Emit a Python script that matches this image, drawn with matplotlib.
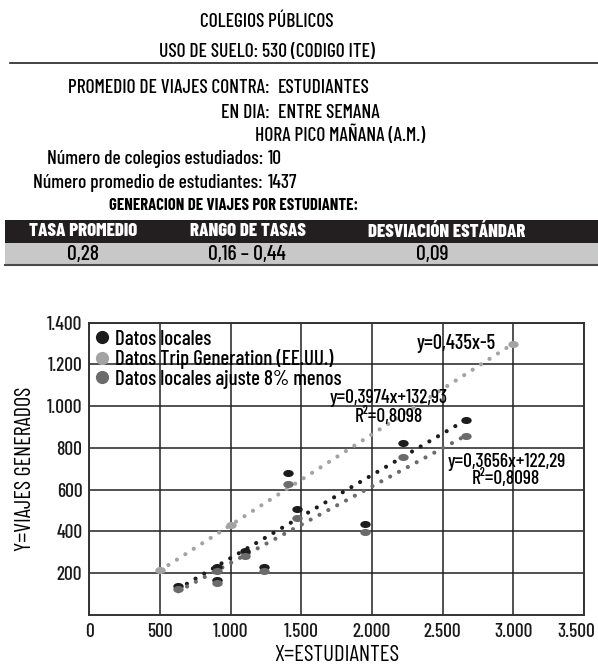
import numpy as np
import matplotlib
matplotlib.use("Agg")
import matplotlib.pyplot as plt
from matplotlib.path import Path
from matplotlib.lines import Line2D
from matplotlib.patches import Rectangle
from matplotlib.transforms import ScaledTranslation

# ---------------- data ----------------
local_students = [629, 900, 900, 1101, 1235, 1403, 1467, 1950, 2217, 2662]
local_trips = [136, 227, 165, 307, 227, 681, 505, 433, 822, 932]
adjusted_trips = [125, 209, 152, 283, 209, 627, 465, 398, 756, 857]
tg_students = [500, 1000, 3000]
tg_trips = [212, 430, 1300]

trend_local_x = [629, 2662]
trend_local_y = [124, 933]
trend_adj_x = [629, 2662]
trend_adj_y = [112, 858]
trend_tg_x = [500, 3000]
trend_tg_y = [212, 1300]

x_ticks = [0, 500, 1000, 1500, 2000, 2500, 3000, 3500]
x_tick_labels = ["0", "500", "1.000", "1.500", "2.000", "2.500", "3.000", "3.500"]
y_ticks = [200, 400, 600, 800, 1000, 1200, 1400]
y_tick_labels = ["200", "400", "600", "800", "1.000", "1.200", "1.400"]

table_headers = ["TASA PROMEDIO", "RANGO DE TASAS", "DESVIACIÓN ESTÁNDAR"]
table_values = ["0,28", "0,16 – 0,44", "0,09"]
legend_labels = ["Datos locales", "Datos Trip Generation (EE.UU.)", "Datos locales ajuste 8% menos"]

# ---------------- style ----------------
FONT = "Barlow Condensed"
plt.rcParams['font.family'] = [FONT, 'DejaVu Sans']
plt.rcParams['font.weight'] = 500

C_LOCAL = "#1c1c1c"
C_TG = "#a3a3a3"
C_ADJ = "#6b6b6b"

W, H = 598, 665
fig = plt.figure(figsize=(W / 100, H / 100), dpi=100)

def fx(px):
    return px / W

def fy(py):
    return 1 - py / H

HS = 14  # header font size
# ---------------- header ----------------
fig.text(fx(267), fy(22), "COLEGIOS PÚBLICOS", ha='center', va='center', fontsize=HS)
fig.text(fx(267), fy(52), "USO DE SUELO: 530 (CODIGO ITE)", ha='center', va='center', fontsize=HS)
fig.add_artist(Line2D([fx(10), fx(598)], [fy(63), fy(63)], transform=fig.transFigure,
                      color="#222222", lw=1.2))
fig.text(fx(270), fy(88), "PROMEDIO DE VIAJES CONTRA:", ha='right', va='center', fontsize=HS)
fig.text(fx(278), fy(88), "ESTUDIANTES", ha='left', va='center', fontsize=HS)
fig.text(fx(270), fy(113), "EN DIA:", ha='right', va='center', fontsize=HS)
fig.text(fx(278), fy(113), "ENTRE SEMANA", ha='left', va='center', fontsize=HS)
fig.text(fx(255), fy(135), "HORA PICO MAÑANA (A.M.)", ha='left', va='center', fontsize=HS)
fig.text(fx(263), fy(159), "Número de colegios estudiados:", ha='right', va='center', fontsize=HS)
fig.text(fx(268), fy(159), "10", ha='left', va='center', fontsize=HS)
fig.text(fx(263), fy(183), "Número promedio de estudiantes:", ha='right', va='center', fontsize=HS)
fig.text(fx(268), fy(183), "1437", ha='left', va='center', fontsize=HS)
fig.text(fx(234), fy(205), "GENERACION DE VIAJES POR ESTUDIANTE:", ha='center', va='center',
         fontsize=12, fontweight=700)

fig.add_artist(Rectangle((fx(5), fy(243)), fx(598) - fx(5), fy(220) - fy(243),
                         transform=fig.transFigure, facecolor="#231f20", edgecolor='none'))
fig.add_artist(Rectangle((fx(5), fy(265)), fx(598) - fx(5), fy(243) - fy(265),
                         transform=fig.transFigure, facecolor="#c8c8c8", edgecolor='none'))
fig.add_artist(Line2D([fx(5), fx(598)], [fy(265), fy(265)], transform=fig.transFigure,
                      color="#4a4a4a", lw=1.5))
col_x = [83, 248, 447]
val_x = [83, 247, 432]
for cx, t in zip(col_x, table_headers):
    fig.text(fx(cx), fy(231.5), t, ha='center', va='center', fontsize=13.5, fontweight=800,
             color='white')
for cx, t in zip(val_x, table_values):
    fig.text(fx(cx), fy(254), t, ha='center', va='center', fontsize=15.5)

# ---------------- chart ----------------
ax = fig.add_axes([fx(89.3), fy(614.7), fx(584) - fx(89.3), fy(322.7) - fy(614.7)])
ax.set_xlim(0, 3500)
ax.set_ylim(0, 1400)

ellipse = Path(Path.unit_circle().vertices * np.array([1.0, 0.68]), Path.unit_circle().codes)

dot_style = dict(lw=3.0, dash_capstyle='round', solid_capstyle='round')
ax.plot(trend_tg_x, trend_tg_y, color=C_TG, linestyle=(0, (0.01, 2.4)), zorder=3, **dot_style)
ax.plot(trend_local_x, trend_local_y, color=C_LOCAL, linestyle=(0, (0.01, 2.4)), zorder=3, **dot_style)
ax.plot(trend_adj_x, trend_adj_y, color=C_ADJ, linestyle=(0, (0.01, 2.4)), zorder=3, **dot_style)

ax.plot(local_students, local_trips, ls='none', marker=ellipse, ms=7.5, color=C_LOCAL,
        mec='none', zorder=4)
ax.plot(tg_students, tg_trips, ls='none', marker=ellipse, ms=7.5, color=C_TG, mec='none', zorder=4)
ax.plot(local_students, adjusted_trips, ls='none', marker=ellipse, ms=7.5, color=C_ADJ,
        mec='none', zorder=5)

ax.set_xticks(x_ticks)
ax.set_xticklabels(x_tick_labels)
ax.set_yticks(y_ticks)
ax.set_yticklabels(y_tick_labels)
ax.tick_params(length=0, labelsize=14, colors='#1a1a1a')
ax.tick_params(axis='x', pad=6)
ax.tick_params(axis='y', pad=5)
ax.grid(True, color='#222222', lw=1.1)
ax.set_axisbelow(True)
for s in ax.spines.values():
    s.set_color('#333333')
    s.set_linewidth(1.4)

lab = ax.get_xticklabels()[-1]
lab.set_transform(lab.get_transform() + ScaledTranslation(-0.08, 0, fig.dpi_scale_trans))

ax.set_xlabel("X=ESTUDIANTES", fontsize=16.5, labelpad=3)
ax.set_ylabel("Y=VIAJES GENERADOS", fontsize=16, labelpad=8)

handles = [Line2D([], [], ls='none', marker='o', ms=9.5, color=C_LOCAL, mec='none'),
           Line2D([], [], ls='none', marker='o', ms=9.5, color=C_TG, mec='none'),
           Line2D([], [], ls='none', marker='o', ms=9.5, color=C_ADJ, mec='none')]
ax.legend(handles, legend_labels,
          loc='upper left', bbox_to_anchor=(0.0, 0.99), frameon=False, fontsize=15,
          handlelength=0.8, handletextpad=0.25, labelspacing=0.02, borderaxespad=0.1,
          borderpad=0.1)

ax.text(0.742, 0.929, "y=0,435x-5", transform=ax.transAxes, ha='center', va='center', fontsize=14.7)
ax.text(0.606, 0.742, "y=0,3974x+132,93", transform=ax.transAxes, ha='center', va='center', fontsize=14)
ax.text(0.606, 0.680, "R²=0,8098", transform=ax.transAxes, ha='center', va='center', fontsize=14)
ax.text(0.843, 0.523, "y=0,3656x+122,29", transform=ax.transAxes, ha='center', va='center', fontsize=14)
ax.text(0.843, 0.465, "R²=0,8098", transform=ax.transAxes, ha='center', va='center', fontsize=14)

fig.savefig("out.png", dpi=100)
